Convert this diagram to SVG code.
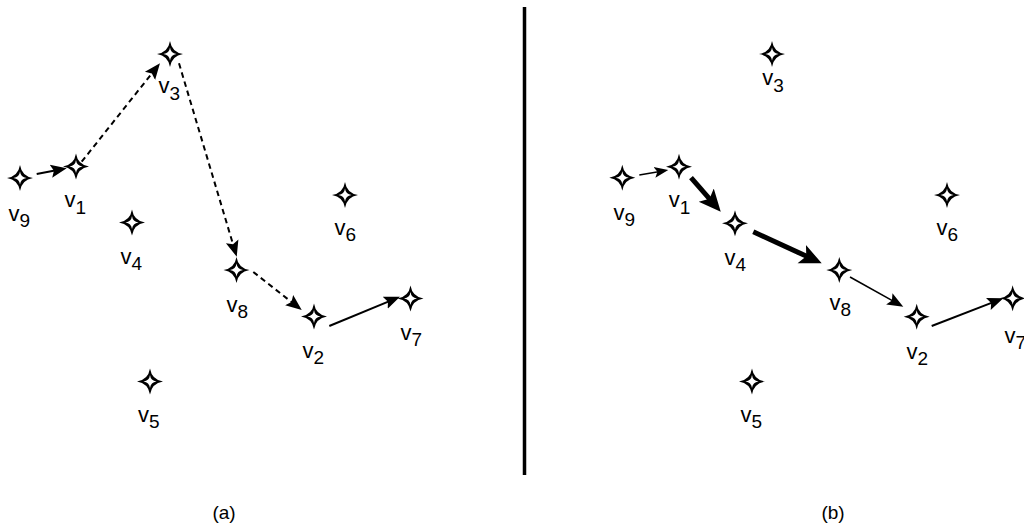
<svg xmlns="http://www.w3.org/2000/svg" xmlns:xlink="http://www.w3.org/1999/xlink" width="1024" height="527" viewBox="0 0 1024 527">
<style>
  .lbl { font-family: "Liberation Sans", Arial, sans-serif; font-size: 22px; fill: #000; }
  .sub { font-size: 19px; }
  .cap { font-family: "Liberation Sans", Arial, sans-serif; font-size: 19px; fill: #000; text-anchor: middle; }
  .so { fill: #000; }
  .si { fill: #fff; }
  .e { fill: none; stroke: #000; stroke-width: 2; }
  .dash { stroke-dasharray: 5.5 4; }
  .thin { stroke-width: 1.6; }
  .thick { stroke-width: 5; }
</style>
<defs>
  <g id="star">
    <path class="so" d="M0,-13 Q1.8,-1.8 13,0 Q1.8,1.8 0,13 Q-1.8,1.8 -13,0 Q-1.8,-1.8 0,-13 Z"/>
    <path class="si" d="M0,-6.5 Q0.7,-0.7 6.5,0 Q0.7,0.7 0,6.5 Q-0.7,0.7 -6.5,0 Q-0.7,-0.7 0,-6.5 Z"/>
  </g>
  <marker id="ah" markerUnits="userSpaceOnUse" markerWidth="20" markerHeight="20" viewBox="0 -10 20 20" refX="4" refY="0" orient="auto">
    <path d="M0,-6.5 L16,0 L0,6.5 L3,0 Z" fill="#000"/>
  </marker>
  <marker id="ahs" markerUnits="userSpaceOnUse" markerWidth="20" markerHeight="20" viewBox="0 -10 20 20" refX="4" refY="0" orient="auto">
    <path d="M0,-5.5 L14,0 L0,5.5 L3,0 Z" fill="#000"/>
  </marker>
  <marker id="ahb" markerUnits="userSpaceOnUse" markerWidth="26" markerHeight="26" viewBox="0 -13 26 26" refX="6" refY="0" orient="auto">
    <path d="M0,-10 L22,0 L0,10 L5,0 Z" fill="#000"/>
  </marker>
</defs>

<g id="connectors">
  <!-- panel (a) -->
  <line class="e" x1="36.7" y1="174" x2="54.9" y2="170.5" marker-end="url(#ah)"/>
  <line class="e dash" x1="81.7" y1="161.7" x2="152.5" y2="72.7" marker-end="url(#ah)"/>
  <line class="e dash" x1="179" y1="63.3" x2="233.3" y2="245.2" marker-end="url(#ah)"/>
  <line class="e dash" x1="253.3" y1="272" x2="292.3" y2="302.6" marker-end="url(#ah)"/>
  <line class="e" x1="329.3" y1="326" x2="388.9" y2="301.3" marker-end="url(#ah)"/>
  <!-- panel (b) -->
  <line class="e thin" x1="639.3" y1="175" x2="658.4" y2="171.7" marker-end="url(#ahs)"/>
  <line class="e thick" x1="691" y1="177.7" x2="710.2" y2="199.6" marker-end="url(#ahb)"/>
  <line class="e thick" x1="753.3" y1="231.7" x2="807.2" y2="256.6" marker-end="url(#ahb)"/>
  <line class="e thin" x1="850" y1="277" x2="892.8" y2="300.9" marker-end="url(#ah)"/>
  <line class="e" x1="931.7" y1="326" x2="992.1" y2="302.6" marker-end="url(#ah)"/>
</g>

<line id="divider" x1="524.5" y1="7" x2="524.5" y2="475" stroke="#000" stroke-width="3.5"/>

<!-- panel (a) nodes -->
<g id="a-v9"><use xlink:href="#star" x="20" y="178"/><text class="lbl" x="8.5" y="221">v<tspan class="sub" dy="6">9</tspan></text></g>
<g id="a-v1"><use xlink:href="#star" x="76" y="166.5"/><text class="lbl" x="64.5" y="207">v<tspan class="sub" dy="7">1</tspan></text></g>
<g id="a-v3"><use xlink:href="#star" x="170" y="54"/><text class="lbl" x="158.5" y="93">v<tspan class="sub" dy="7">3</tspan></text></g>
<g id="a-v4"><use xlink:href="#star" x="132" y="222.5"/><text class="lbl" x="120.5" y="264">v<tspan class="sub" dy="6">4</tspan></text></g>
<g id="a-v6"><use xlink:href="#star" x="345" y="195"/><text class="lbl" x="334.5" y="235">v<tspan class="sub" dy="6">6</tspan></text></g>
<g id="a-v8"><use xlink:href="#star" x="236.5" y="270"/><text class="lbl" x="226.5" y="311.5">v<tspan class="sub" dy="6">8</tspan></text></g>
<g id="a-v2"><use xlink:href="#star" x="314" y="316.5"/><text class="lbl" x="302.5" y="358">v<tspan class="sub" dy="6">2</tspan></text></g>
<g id="a-v7"><use xlink:href="#star" x="410.5" y="298.5"/><text class="lbl" x="400.5" y="340">v<tspan class="sub" dy="6">7</tspan></text></g>
<g id="a-v5"><use xlink:href="#star" x="150" y="381.5"/><text class="lbl" x="138" y="421.5">v<tspan class="sub" dy="6">5</tspan></text></g>

<!-- panel (b) nodes -->
<g id="b-v9"><use xlink:href="#star" x="622.3" y="177.7"/><text class="lbl" x="613.5" y="220">v<tspan class="sub" dy="6">9</tspan></text></g>
<g id="b-v1"><use xlink:href="#star" x="679" y="166.7"/><text class="lbl" x="668.8" y="207">v<tspan class="sub" dy="7">1</tspan></text></g>
<g id="b-v3"><use xlink:href="#star" x="772" y="54"/><text class="lbl" x="762.2" y="85">v<tspan class="sub" dy="7">3</tspan></text></g>
<g id="b-v4"><use xlink:href="#star" x="735" y="223.3"/><text class="lbl" x="724.5" y="265">v<tspan class="sub" dy="6">4</tspan></text></g>
<g id="b-v6"><use xlink:href="#star" x="947" y="195"/><text class="lbl" x="936.5" y="235">v<tspan class="sub" dy="6">6</tspan></text></g>
<g id="b-v8"><use xlink:href="#star" x="839.3" y="270"/><text class="lbl" x="829.5" y="310">v<tspan class="sub" dy="6">8</tspan></text></g>
<g id="b-v2"><use xlink:href="#star" x="916.7" y="316.7"/><text class="lbl" x="906.5" y="359">v<tspan class="sub" dy="6">2</tspan></text></g>
<g id="b-v7"><use xlink:href="#star" x="1012.7" y="298.3"/><text class="lbl" x="1004.5" y="343">v<tspan class="sub" dy="6">7</tspan></text></g>
<g id="b-v5"><use xlink:href="#star" x="752" y="381.5"/><text class="lbl" x="740.5" y="421.5">v<tspan class="sub" dy="6">5</tspan></text></g>

<text class="cap" x="224" y="519">(a)</text>
<text class="cap" x="833" y="519">(b)</text>
</svg>
